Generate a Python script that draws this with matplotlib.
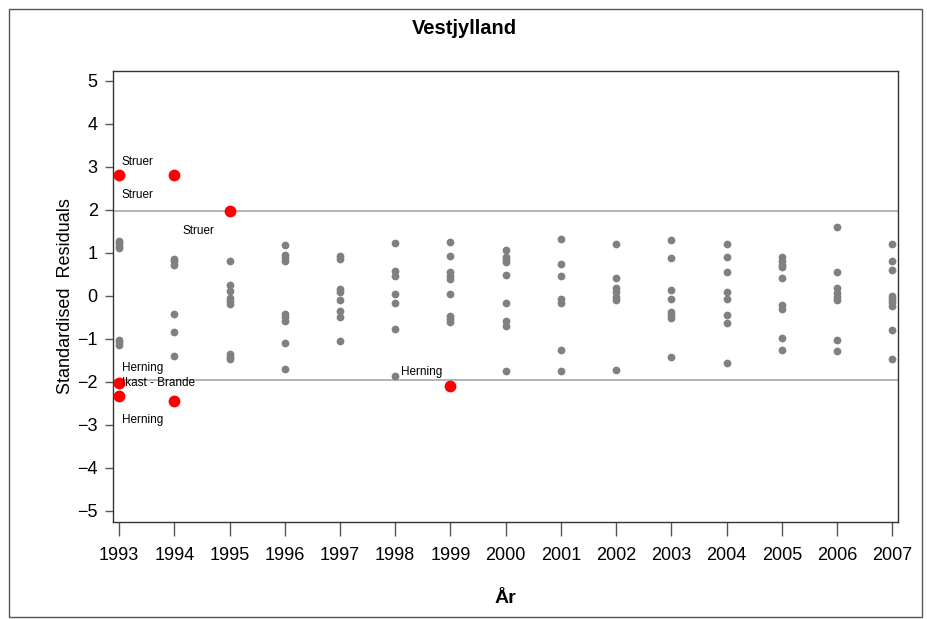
import matplotlib
matplotlib.use("Agg")
import matplotlib.pyplot as plt
from matplotlib.patches import Rectangle

plt.rcParams['font.family'] = ['Liberation Sans', 'DejaVu Sans']

# standardised residuals per year (gray = within limits)
years = list(range(1993, 2008))
residuals = {
    1993: [1.28, 1.22, 1.15, 1.10, -1.02, -1.08, -1.14],
    1994: [0.86, 0.80, 0.72, -0.43, -0.84, -1.40],
    1995: [0.80, 0.25, 0.10, -0.05, -0.12, -0.20, -1.35, -1.42, -1.48],
    1996: [1.18, 0.95, 0.88, 0.80, -0.42, -0.50, -0.58, -1.09, -1.71],
    1997: [0.92, 0.86, 0.15, 0.08, -0.10, -0.35, -0.50, -1.05],
    1998: [1.22, 0.57, 0.45, 0.05, -0.17, -0.78, -1.86],
    1999: [1.26, 0.93, 0.54, 0.46, 0.38, 0.03, -0.48, -0.55, -0.61],
    2000: [1.06, 0.90, 0.84, 0.78, 0.48, -0.18, -0.60, -0.70, -1.74],
    2001: [1.33, 0.74, 0.46, -0.08, -0.18, -1.27, -1.74],
    2002: [1.20, 0.41, 0.18, 0.09, -0.02, -0.10, -1.73],
    2003: [1.30, 0.87, 0.13, -0.07, -0.38, -0.45, -0.53, -1.43],
    2004: [1.20, 0.90, 0.54, 0.09, -0.07, -0.45, -0.64, -1.57],
    2005: [0.90, 0.80, 0.72, 0.66, 0.42, -0.22, -0.30, -0.98, -1.27],
    2006: [1.60, 0.56, 0.19, 0.07, -0.02, -0.11, -1.04, -1.29],
    2007: [1.21, 0.80, 0.59, -0.01, -0.07, -0.15, -0.24, -0.79, -1.48],
}

# outliers (red)
out_x = [1993, 1993, 1993, 1994, 1994, 1995, 1999]
out_y = [2.81, -2.02, -2.33, 2.81, -2.44, 1.98, -2.09]

# point labels as placed in the original
lab_text = ['Struer', 'Struer', 'Struer', 'Herning', 'Ikast - Brande', 'Herning', 'Herning']
lab_x = [1993.05, 1993.05, 1994.14, 1993.05, 1993.05, 1993.05, 1998.10]
lab_y = [3.12, 2.35, 1.50, -1.68, -2.03, -2.88, -1.77]

limit = 1.96

fig = plt.figure(figsize=(9.28, 6.19), dpi=100)
ax = fig.add_axes([0.1218, 0.1572, 0.8459, 0.7281])

gx, gy = [], []
for yr in years:
    gx += [yr] * len(residuals[yr])
    gy += residuals[yr]

ax.axhline(limit, color='#a8a8a8', lw=1.2, zorder=1)
ax.axhline(-limit, color='#a8a8a8', lw=1.2, zorder=1)
ax.plot(gx, gy, 'o', color='#808080', ms=5.6, mec='none', zorder=2)
ax.plot(out_x, out_y, 'o', color='#ff0000', ms=8.5, mec='none', zorder=3)
for t, x, y in zip(lab_text, lab_x, lab_y):
    ax.text(x, y, t, fontsize=8.5, ha='left', va='center', zorder=4)

ax.set_xlim(1992.891, 2007.103)
ax.set_ylim(-5.256, 5.226)
ax.set_xticks(years)
ax.set_yticks(range(-5, 6))
ax.set_yticklabels([str(v).replace('-', '\u2212') for v in range(-5, 6)])
ax.tick_params(axis='x', length=10, width=1, color='#555555', labelsize=13, pad=8)
ax.tick_params(axis='y', length=6, width=1, color='#555555', labelsize=13, pad=5)
for s in ax.spines.values():
    s.set_color('#333333')
    s.set_linewidth(1)

fig.text(0.5, 1 - 28 / 619, 'Vestjylland', fontsize=14.5, fontweight='bold', ha='center', va='center')
ax.set_xlabel('År', fontsize=14, fontweight='bold', labelpad=19)
ax.set_ylabel('Standardised  Residuals', fontsize=13, labelpad=2)

fig.patches.append(Rectangle((9 / 928, 2 / 619), 913 / 928, 608 / 619, transform=fig.transFigure,
                             fill=False, edgecolor='#555555', lw=1))

fig.savefig('out.png', dpi=100)
